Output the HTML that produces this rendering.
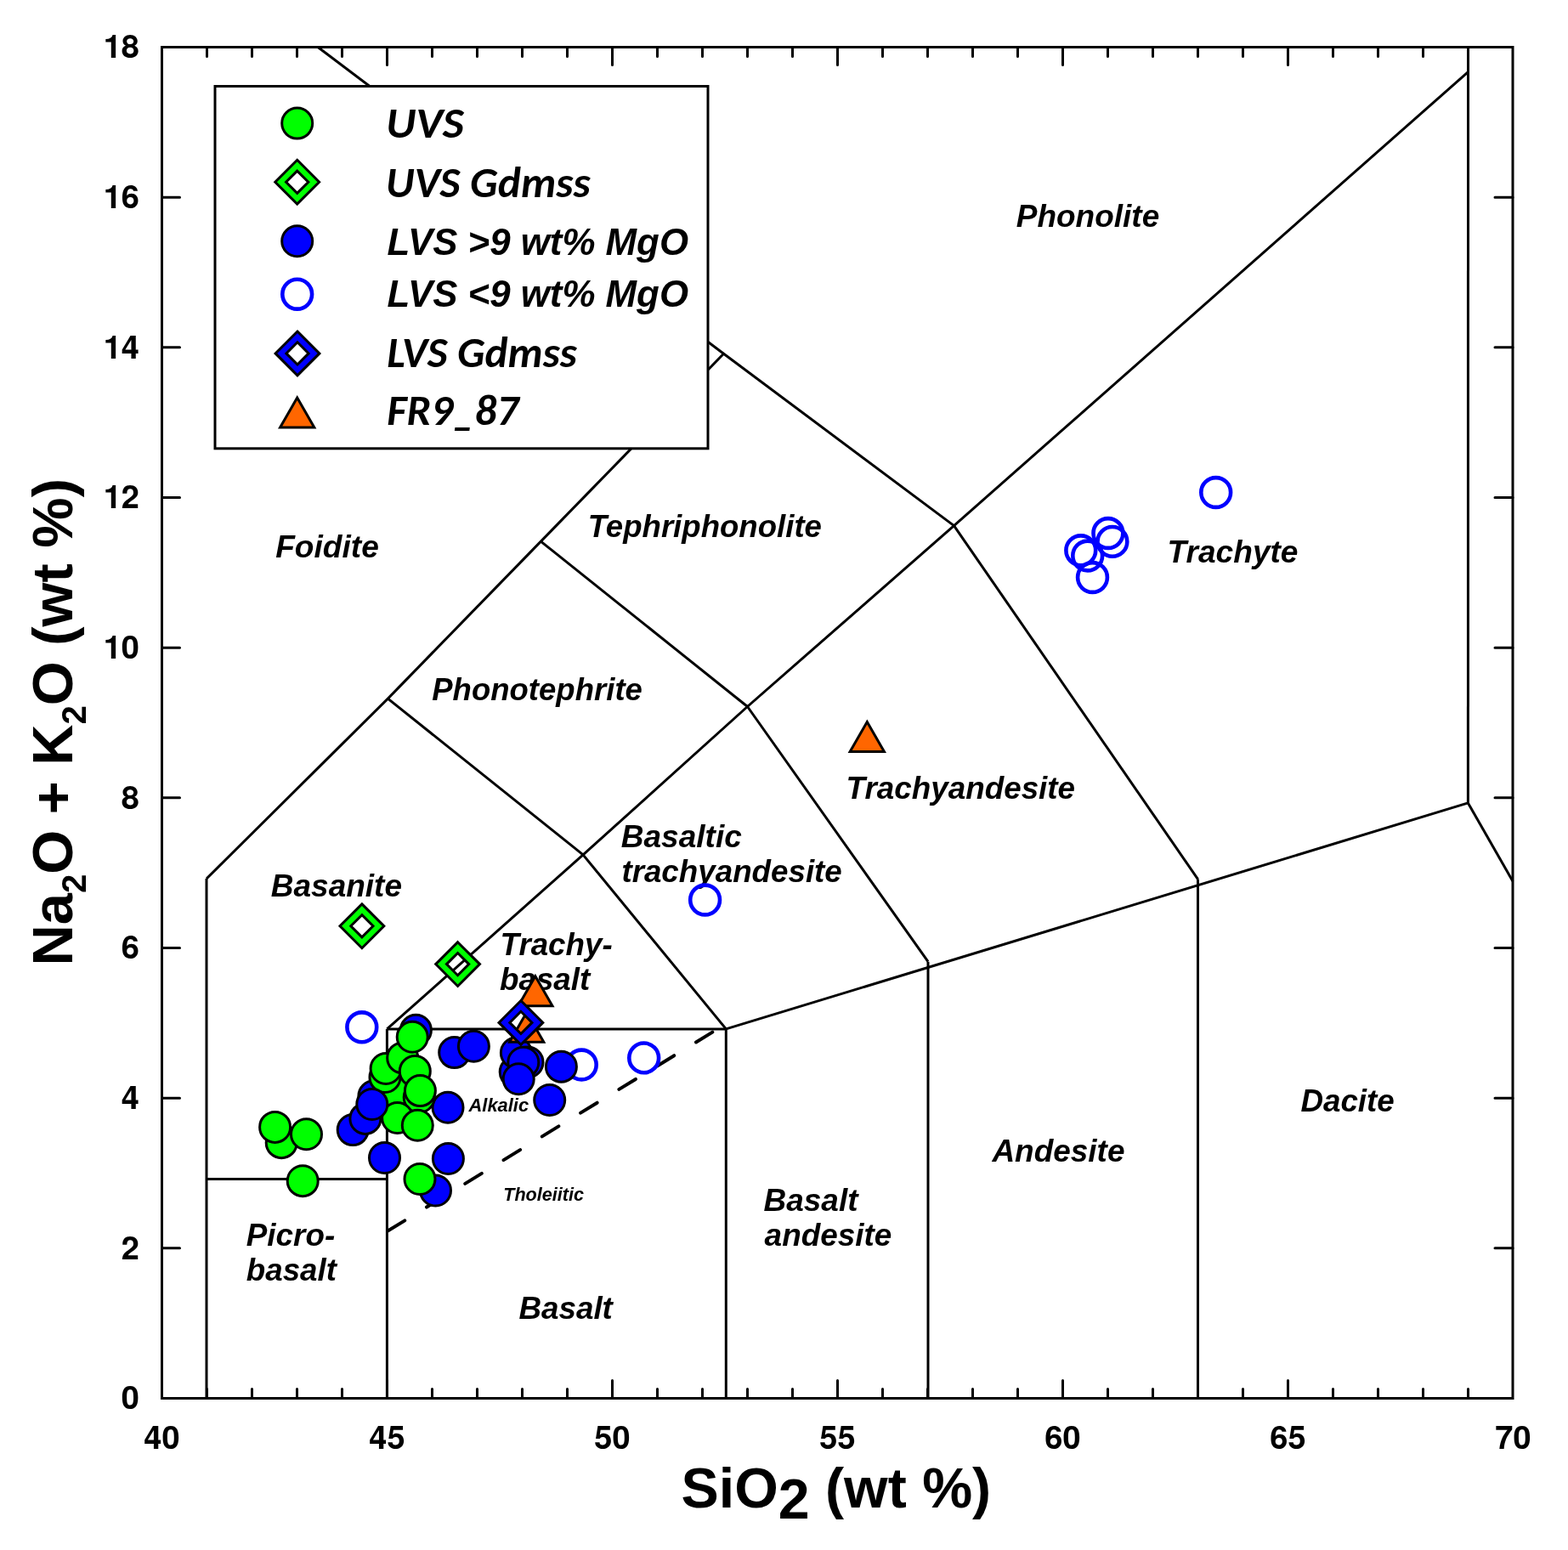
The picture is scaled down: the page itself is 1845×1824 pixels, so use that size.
<!DOCTYPE html><html><head><meta charset="utf-8"><title>TAS diagram</title>
<style>html,body{margin:0;padding:0;background:#fff;}svg{display:block;}.tk{font-family:"TeX Gyre Heros","Liberation Sans",Arial,sans-serif;font-weight:bold;font-size:38px;}.lb{font-family:"Liberation Sans",Arial,sans-serif;font-weight:bold;font-style:italic;font-size:36.5px;}.sm{font-family:"Liberation Sans",Arial,sans-serif;font-weight:bold;font-style:italic;font-size:21.5px;}.lg{font-family:Carlito,"Liberation Sans",Arial,sans-serif;font-weight:bold;font-style:italic;font-size:50.5px;}.lga{font-family:"Liberation Sans",Arial,sans-serif;font-weight:bold;font-style:italic;font-size:44px;}.ax{font-family:"Liberation Sans",Arial,sans-serif;font-weight:bold;font-size:66.3px;}</style></head><body>
<svg width="1845" height="1824" viewBox="0 0 1845 1824">
<rect width="1845" height="1824" fill="#fff"/>
<polyline fill="none" stroke="#000" stroke-width="3" stroke-linejoin="miter" points="243.0,1645.5 243.0,1034.0"/>
<polyline fill="none" stroke="#000" stroke-width="3" stroke-linejoin="miter" points="243.0,1387.5 455.4,1387.5"/>
<polyline fill="none" stroke="#000" stroke-width="3" stroke-linejoin="miter" points="455.4,1645.5 455.4,1210.9"/>
<polyline fill="none" stroke="#000" stroke-width="3" stroke-linejoin="miter" points="455.4,1210.9 854.3,1210.9"/>
<polyline fill="none" stroke="#000" stroke-width="3" stroke-linejoin="miter" points="854.3,1645.5 854.3,1210.9"/>
<polyline fill="none" stroke="#000" stroke-width="3" stroke-linejoin="miter" points="1092.0,1645.5 1092.0,1131.7"/>
<polyline fill="none" stroke="#000" stroke-width="3" stroke-linejoin="miter" points="1409.5,1645.5 1409.5,1034.6"/>
<polyline fill="none" stroke="#000" stroke-width="3" stroke-linejoin="miter" points="1727.4,944.9 1780.0,1037.0"/>
<polyline fill="none" stroke="#000" stroke-width="3" stroke-linejoin="miter" points="1727.4,944.9 1727.5,55.5"/>
<polyline fill="none" stroke="#000" stroke-width="3" stroke-linejoin="miter" points="243.0,1034.0 456.4,822.1 636.4,637.1 851.5,416.3"/>
<polyline fill="none" stroke="#000" stroke-width="3" stroke-linejoin="miter" points="456.4,822.1 686.1,1005.9"/>
<polyline fill="none" stroke="#000" stroke-width="3" stroke-linejoin="miter" points="636.4,637.1 879.5,831.5"/>
<polyline fill="none" stroke="#000" stroke-width="3" stroke-linejoin="miter" points="455.4,1210.9 686.1,1005.9 879.5,831.5 1122.5,618.6 1727.5,84.6"/>
<polyline fill="none" stroke="#000" stroke-width="3" stroke-linejoin="miter" points="686.1,1005.9 854.3,1210.9"/>
<polyline fill="none" stroke="#000" stroke-width="3" stroke-linejoin="miter" points="879.5,831.5 1092.0,1131.7"/>
<polyline fill="none" stroke="#000" stroke-width="3" stroke-linejoin="miter" points="1122.5,618.6 1409.5,1034.6"/>
<polyline fill="none" stroke="#000" stroke-width="3" stroke-linejoin="miter" points="854.3,1210.9 1727.4,944.9"/>
<polyline fill="none" stroke="#000" stroke-width="3" stroke-linejoin="miter" points="1122.5,618.6 851.5,416.3 374.1,55.5"/>
<line x1="456.7" y1="1448.3" x2="838.3" y2="1214.6" stroke="#000" stroke-width="4" stroke-linecap="round" stroke-dasharray="22.9 30.2"/>
<path d="M243.5 1645.5v-11.0M243.5 55.5v11.0M296.5 1645.5v-11.0M296.5 55.5v11.0M349.5 1645.5v-11.0M349.5 55.5v11.0M402.5 1645.5v-11.0M402.5 55.5v11.0M455.5 1645.5v-21.0M455.5 55.5v21.0M508.5 1645.5v-11.0M508.5 55.5v11.0M561.5 1645.5v-11.0M561.5 55.5v11.0M614.5 1645.5v-11.0M614.5 55.5v11.0M667.5 1645.5v-11.0M667.5 55.5v11.0M720.5 1645.5v-21.0M720.5 55.5v21.0M773.5 1645.5v-11.0M773.5 55.5v11.0M826.5 1645.5v-11.0M826.5 55.5v11.0M879.5 1645.5v-11.0M879.5 55.5v11.0M932.5 1645.5v-11.0M932.5 55.5v11.0M985.5 1645.5v-21.0M985.5 55.5v21.0M1038.5 1645.5v-11.0M1038.5 55.5v11.0M1091.5 1645.5v-11.0M1091.5 55.5v11.0M1144.5 1645.5v-11.0M1144.5 55.5v11.0M1197.5 1645.5v-11.0M1197.5 55.5v11.0M1250.5 1645.5v-21.0M1250.5 55.5v21.0M1303.5 1645.5v-11.0M1303.5 55.5v11.0M1356.5 1645.5v-11.0M1356.5 55.5v11.0M1409.5 1645.5v-11.0M1409.5 55.5v11.0M1462.5 1645.5v-11.0M1462.5 55.5v11.0M1515.5 1645.5v-21.0M1515.5 55.5v21.0M1568.5 1645.5v-11.0M1568.5 55.5v11.0M1621.5 1645.5v-11.0M1621.5 55.5v11.0M1674.5 1645.5v-11.0M1674.5 55.5v11.0M1727.5 1645.5v-11.0M1727.5 55.5v11.0M190.5 1468.8h21.0M1780.0 1468.8h-21.0M190.5 1292.2h21.0M1780.0 1292.2h-21.0M190.5 1115.5h21.0M1780.0 1115.5h-21.0M190.5 938.8h21.0M1780.0 938.8h-21.0M190.5 762.2h21.0M1780.0 762.2h-21.0M190.5 585.5h21.0M1780.0 585.5h-21.0M190.5 408.8h21.0M1780.0 408.8h-21.0M190.5 232.2h21.0M1780.0 232.2h-21.0" stroke="#000" stroke-width="3" stroke-linecap="round" fill="none"/>
<rect x="190.5" y="55.5" width="1589.5" height="1590.0" fill="none" stroke="#000" stroke-width="3"/>
<text class="tk" x="190.5" y="1704.7" text-anchor="middle">40</text>
<text class="tk" x="455.5" y="1704.7" text-anchor="middle">45</text>
<text class="tk" x="720.5" y="1704.7" text-anchor="middle">50</text>
<text class="tk" x="985.5" y="1704.7" text-anchor="middle">55</text>
<text class="tk" x="1250.5" y="1704.7" text-anchor="middle">60</text>
<text class="tk" x="1515.5" y="1704.7" text-anchor="middle">65</text>
<text class="tk" x="1780.5" y="1704.7" text-anchor="middle">70</text>
<text class="tk" x="164.0" y="1658.3" text-anchor="end">0</text>
<text class="tk" x="164.0" y="1481.6" text-anchor="end">2</text>
<text class="tk" x="164.0" y="1305.0" text-anchor="end">4</text>
<text class="tk" x="164.0" y="1128.3" text-anchor="end">6</text>
<text class="tk" x="164.0" y="951.6" text-anchor="end">8</text>
<text class="tk" x="164.0" y="775.0" text-anchor="end">10</text>
<text class="tk" x="164.0" y="598.3" text-anchor="end">12</text>
<text class="tk" x="164.0" y="421.6" text-anchor="end">14</text>
<text class="tk" x="164.0" y="245.0" text-anchor="end">16</text>
<text class="tk" x="164.0" y="68.3" text-anchor="end">18</text>
<text class="ax" x="801.5" y="1774">SiO<tspan dy="12.8">2</tspan><tspan dy="-12.8"> (wt %)</tspan></text>
<text class="ax" font-size="66.8" style="font-size:66.8px" transform="translate(85.3 1136.4) rotate(-90)" x="0" y="0">Na<tspan font-size="40" dy="15.5">2</tspan><tspan dy="-15.5">O + K</tspan><tspan font-size="40" dy="15.5">2</tspan><tspan dy="-15.5">O (wt %)</tspan></text>
<text class="lb" x="1195.8" y="267.2" textLength="168.4" lengthAdjust="spacingAndGlyphs">Phonolite</text>
<text class="lb" x="691.8" y="632.3" textLength="275.2" lengthAdjust="spacingAndGlyphs">Tephriphonolite</text>
<text class="lb" x="324.2" y="656.1" textLength="121.7" lengthAdjust="spacingAndGlyphs">Foidite</text>
<text class="lb" x="1373.6" y="662.0" textLength="153.9" lengthAdjust="spacingAndGlyphs">Trachyte</text>
<text class="lb" x="508.2" y="824.0" textLength="247.7" lengthAdjust="spacingAndGlyphs">Phonotephrite</text>
<text class="lb" x="995.6" y="940.4" textLength="269.5" lengthAdjust="spacingAndGlyphs">Trachyandesite</text>
<text class="lb" x="730.8" y="996.7" textLength="142.0" lengthAdjust="spacingAndGlyphs">Basaltic</text>
<text class="lb" x="731.4" y="1038.2" textLength="259.4" lengthAdjust="spacingAndGlyphs">trachyandesite</text>
<text class="lb" x="318.8" y="1055.1" textLength="154.2" lengthAdjust="spacingAndGlyphs">Basanite</text>
<text class="lb" x="588.6" y="1123.6" textLength="132.1" lengthAdjust="spacingAndGlyphs">Trachy-</text>
<text class="lb" x="588.0" y="1164.6" textLength="106.3" lengthAdjust="spacingAndGlyphs">basalt</text>
<text class="sm" x="551.5" y="1307.8" textLength="70.6" lengthAdjust="spacingAndGlyphs">Alkalic</text>
<text class="sm" x="592.2" y="1412.8" textLength="94.8" lengthAdjust="spacingAndGlyphs">Tholeiitic</text>
<text class="lb" x="898.6" y="1425.0" textLength="110.9" lengthAdjust="spacingAndGlyphs">Basalt</text>
<text class="lb" x="899.6" y="1466.0" textLength="149.8" lengthAdjust="spacingAndGlyphs">andesite</text>
<text class="lb" x="289.8" y="1465.9" textLength="104.4" lengthAdjust="spacingAndGlyphs">Picro-</text>
<text class="lb" x="289.8" y="1507.0" textLength="106.1" lengthAdjust="spacingAndGlyphs">basalt</text>
<text class="lb" x="610.4" y="1551.9" textLength="110.5" lengthAdjust="spacingAndGlyphs">Basalt</text>
<text class="lb" x="1167.4" y="1367.3" textLength="156.1" lengthAdjust="spacingAndGlyphs">Andesite</text>
<text class="lb" x="1530.4" y="1307.9" textLength="110.4" lengthAdjust="spacingAndGlyphs">Dacite</text>
<circle cx="425.8" cy="1208.8" r="17.4" fill="none" stroke="#0000ff" stroke-width="4.6"/>
<circle cx="684.3" cy="1253.0" r="17.4" fill="none" stroke="#0000ff" stroke-width="4.6"/>
<circle cx="757.7" cy="1244.9" r="17.4" fill="none" stroke="#0000ff" stroke-width="4.6"/>
<circle cx="829.6" cy="1059.0" r="17.4" fill="none" stroke="#0000ff" stroke-width="4.6"/>
<circle cx="1430.7" cy="579.5" r="17.4" fill="none" stroke="#0000ff" stroke-width="4.6"/>
<circle cx="1303.9" cy="627.5" r="17.4" fill="none" stroke="#0000ff" stroke-width="4.6"/>
<circle cx="1308.9" cy="637.4" r="17.4" fill="none" stroke="#0000ff" stroke-width="4.6"/>
<circle cx="1271.8" cy="647.8" r="17.4" fill="none" stroke="#0000ff" stroke-width="4.6"/>
<circle cx="1279.7" cy="654.0" r="17.4" fill="none" stroke="#0000ff" stroke-width="4.6"/>
<circle cx="1285.5" cy="679.5" r="17.4" fill="none" stroke="#0000ff" stroke-width="4.6"/>
<circle cx="489.4" cy="1212.3" r="18" fill="#0000ff" stroke="#000" stroke-width="3"/>
<circle cx="534.7" cy="1238.6" r="18" fill="#0000ff" stroke="#000" stroke-width="3"/>
<circle cx="557.4" cy="1231.3" r="18" fill="#0000ff" stroke="#000" stroke-width="3"/>
<circle cx="606.2" cy="1261.5" r="18" fill="#0000ff" stroke="#000" stroke-width="3"/>
<circle cx="607.4" cy="1239.0" r="18" fill="#0000ff" stroke="#000" stroke-width="3"/>
<circle cx="621.0" cy="1250.0" r="18" fill="#0000ff" stroke="#000" stroke-width="3"/>
<circle cx="615.8" cy="1250.2" r="18" fill="#0000ff" stroke="#000" stroke-width="3"/>
<circle cx="610.2" cy="1269.8" r="18" fill="#0000ff" stroke="#000" stroke-width="3"/>
<circle cx="660.4" cy="1255.2" r="18" fill="#0000ff" stroke="#000" stroke-width="3"/>
<circle cx="646.7" cy="1294.5" r="18" fill="#0000ff" stroke="#000" stroke-width="3"/>
<circle cx="527.0" cy="1303.3" r="18" fill="#0000ff" stroke="#000" stroke-width="3"/>
<circle cx="527.4" cy="1363.5" r="18" fill="#0000ff" stroke="#000" stroke-width="3"/>
<circle cx="452.5" cy="1362.5" r="18" fill="#0000ff" stroke="#000" stroke-width="3"/>
<circle cx="512.5" cy="1401.0" r="18" fill="#0000ff" stroke="#000" stroke-width="3"/>
<circle cx="439.9" cy="1289.8" r="18" fill="#0000ff" stroke="#000" stroke-width="3"/>
<circle cx="331.2" cy="1344.7" r="18" fill="#00ff00" stroke="#000" stroke-width="3"/>
<circle cx="323.6" cy="1326.4" r="18" fill="#00ff00" stroke="#000" stroke-width="3"/>
<circle cx="360.5" cy="1334.8" r="18" fill="#00ff00" stroke="#000" stroke-width="3"/>
<circle cx="356.2" cy="1389.7" r="18" fill="#00ff00" stroke="#000" stroke-width="3"/>
<circle cx="464.5" cy="1284.4" r="18" fill="#00ff00" stroke="#000" stroke-width="3"/>
<circle cx="453.0" cy="1267.5" r="18" fill="#00ff00" stroke="#000" stroke-width="3"/>
<circle cx="454.1" cy="1257.5" r="18" fill="#00ff00" stroke="#000" stroke-width="3"/>
<circle cx="473.7" cy="1244.9" r="18" fill="#00ff00" stroke="#000" stroke-width="3"/>
<circle cx="485.2" cy="1220.3" r="18" fill="#00ff00" stroke="#000" stroke-width="3"/>
<circle cx="488.3" cy="1260.6" r="18" fill="#00ff00" stroke="#000" stroke-width="3"/>
<circle cx="493.2" cy="1291.3" r="18" fill="#00ff00" stroke="#000" stroke-width="3"/>
<circle cx="494.4" cy="1283.6" r="18" fill="#00ff00" stroke="#000" stroke-width="3"/>
<circle cx="467.6" cy="1315.5" r="18" fill="#00ff00" stroke="#000" stroke-width="3"/>
<circle cx="491.3" cy="1324.3" r="18" fill="#00ff00" stroke="#000" stroke-width="3"/>
<circle cx="494.0" cy="1387.5" r="18" fill="#00ff00" stroke="#000" stroke-width="3"/>
<circle cx="415.2" cy="1329.6" r="18" fill="#0000ff" stroke="#000" stroke-width="3"/>
<circle cx="429.9" cy="1316.4" r="18" fill="#0000ff" stroke="#000" stroke-width="3"/>
<circle cx="437.8" cy="1299.5" r="18" fill="#0000ff" stroke="#000" stroke-width="3"/>
<path d="M1020.3 849.5L1040.4 884.5L1000.2 884.5Z" fill="#ff6600" stroke="#000" stroke-width="3" stroke-miterlimit="10"/>
<path d="M619.7 1191.2L639.8 1226.2L599.6 1226.2Z" fill="#ff6600" stroke="#000" stroke-width="3" stroke-miterlimit="10"/>
<path d="M629.9 1148.8L650.0 1183.8L609.8 1183.8Z" fill="#ff6600" stroke="#000" stroke-width="3" stroke-miterlimit="10"/>
<path d="M425.9 1063.9L451.8 1089.8L425.9 1115.7L400.0 1089.8ZM425.9 1076.7L412.8 1089.8L425.9 1102.9L439.0 1089.8Z" fill="#00ff00" fill-rule="evenodd" stroke="#000" stroke-width="3" stroke-miterlimit="10"/>
<path d="M538.6 1108.7L564.5 1134.6L538.6 1160.5L512.7 1134.6ZM538.6 1121.5L525.5 1134.6L538.6 1147.7L551.7 1134.6Z" fill="#00ff00" fill-rule="evenodd" stroke="#000" stroke-width="3" stroke-miterlimit="10"/>
<path d="M612.9 1177.5L638.8 1203.4L612.9 1229.3L587.0 1203.4ZM612.9 1190.3L599.8 1203.4L612.9 1216.5L626.0 1203.4Z" fill="#0000ff" fill-rule="evenodd" stroke="#000" stroke-width="3" stroke-miterlimit="10"/>
<rect x="253" y="101.5" width="580" height="426.3" fill="#fff" stroke="#000" stroke-width="3"/>
<circle cx="349.7" cy="145.1" r="18" fill="#00ff00" stroke="#000" stroke-width="3"/>
<path d="M349.7 188.3L375.6 214.2L349.7 240.1L323.8 214.2ZM349.7 201.1L336.6 214.2L349.7 227.3L362.8 214.2Z" fill="#00ff00" fill-rule="evenodd" stroke="#000" stroke-width="3" stroke-miterlimit="10"/>
<circle cx="349.7" cy="283.8" r="18" fill="#0000ff" stroke="#000" stroke-width="3"/>
<circle cx="349.7" cy="346.2" r="17.4" fill="none" stroke="#0000ff" stroke-width="4.6"/>
<path d="M350.0 390.0L375.9 415.9L350.0 441.8L324.1 415.9ZM350.0 402.8L336.9 415.9L350.0 429.0L363.1 415.9Z" fill="#0000ff" fill-rule="evenodd" stroke="#000" stroke-width="3" stroke-miterlimit="10"/>
<path d="M349.7 468.1L369.8 503.1L329.6 503.1Z" fill="#ff6600" stroke="#000" stroke-width="3" stroke-miterlimit="10"/>
<text class="lg" x="454.2" y="161.5" textLength="91.6" lengthAdjust="spacingAndGlyphs">UVS</text>
<text class="lg" x="454.0" y="231.6" textLength="240.7" lengthAdjust="spacingAndGlyphs">UVS Gdmss</text>
<text class="lga" x="455.6" y="299.5" textLength="354.4" lengthAdjust="spacingAndGlyphs">LVS &gt;9 wt% MgO</text>
<text class="lga" x="455.6" y="361.4" textLength="354.4" lengthAdjust="spacingAndGlyphs">LVS &lt;9 wt% MgO</text>
<text class="lg" x="455.2" y="432.2" textLength="223.8" lengthAdjust="spacingAndGlyphs">LVS Gdmss</text>
<text class="lg" x="455.2" y="500.0" textLength="155.1" lengthAdjust="spacingAndGlyphs">FR9_87</text>
</svg></body></html>
